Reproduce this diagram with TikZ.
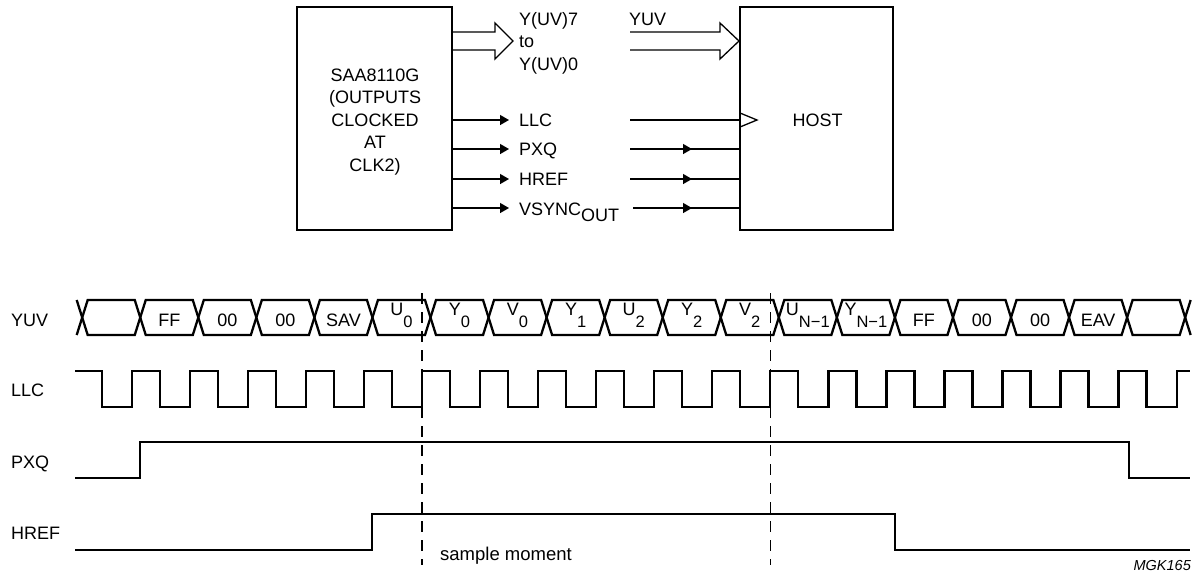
\documentclass[tikz,border=0pt]{standalone}
\usepackage{fontspec}
\setmainfont{Liberation Sans}
\usetikzlibrary{arrows.meta}
\newcommand{\bsub}[2]{\raisebox{12pt}{#1}{\fontsize{16.5}{16.5}\selectfont #2}}
\begin{document}
\begin{tikzpicture}[x=1pt,y=-1pt,
  txt/.style={inner sep=0pt, font=\fontsize{18}{22}\selectfont},
  blk/.style={draw, line width=2pt, inner sep=0pt},
  thinln/.style={line width=1.3pt, line join=miter},
  sarrow/.style={thinln, -{Triangle[length=9pt,width=10pt]}},
  wave/.style={line width=2.3pt, line join=miter},
  dashln/.style={line width=1.2pt, dash pattern=on 11pt off 8pt}]
\useasboundingbox (0,0) rectangle (1198,574);

% ---------- block diagram ----------
\node[blk, minimum width=155pt, minimum height=223pt] (saa) at (374.5,118.5) {};
\node[blk, minimum width=153pt, minimum height=223pt] (host) at (816.5,118.5) {};
\node[txt, anchor=base] (s1) at (375,81) {SAA8110G};
\node[txt, anchor=base] (s2) at (375,103.5) {(OUTPUTS};
\node[txt, anchor=base] (s3) at (375,126) {CLOCKED};
\node[txt, anchor=base] (s4) at (375,148.5) {AT};
\node[txt, anchor=base] (s5) at (375,171) {CLK2)};
\node[txt, anchor=base] (hostL) at (817.5,126) {HOST};

\node[txt, anchor=base west] (yuv7) at (519,25) {Y(UV)7};
\node[txt, anchor=base west] (yto) at (519,47.5) {to};
\node[txt, anchor=base west] (yuv0) at (519,70) {Y(UV)0};
\node[txt, anchor=base west] (yuvT) at (629,25) {YUV};
\node[txt, anchor=base west] (llcT) at (519,126.5) {LLC};
\node[txt, anchor=base west] (pxqT) at (519,155.5) {PXQ};
\node[txt, anchor=base west] (hrefT) at (519,185.5) {HREF};
\node[txt, anchor=base west] (vsT) at (519,215.5) {VSYNC\raisebox{-5.5pt}{OUT}};

\coordinate (llcTip) at (509,120);
\coordinate (pxqTip) at (509,149);
\coordinate (hrefTip) at (509,179);
\coordinate (vsTip) at (509,208);
\coordinate (llcR) at (630,120);
\coordinate (pxqR) at (630,149);
\coordinate (hrefR) at (630,179);
\coordinate (vsR) at (633,208);

% hollow bus arrows
\draw[thinln] (saa.east |- 0,32) -- (495,32) -- (495,23) -- (513,41) -- (495,59) -- (495,50) -- (saa.east |- 0,50);
\draw[thinln] (630,32) -- (720,32) -- (720,23) -- (host.west |- 0,41) -- (720,59) -- (720,50) -- (630,50);

% outputs
\draw[sarrow] (saa.east |- llcTip) -- (llcTip);
\draw[sarrow] (saa.east |- pxqTip) -- (pxqTip);
\draw[sarrow] (saa.east |- hrefTip) -- (hrefTip);
\draw[sarrow] (saa.east |- vsTip) -- (vsTip);

% host inputs
\draw[thinln] (llcR) -- (host.west |- llcR);
\draw[thinln] (740,113) -- (757,120) -- (740,127);
\foreach \r in {pxqR,hrefR,vsR}{
  \draw[sarrow] (\r) -- (692,0 |- \r);
  \draw[thinln] (686,0 |- \r) -- (host.west |- \r);
}

% ---------- timing diagram ----------
\node[txt, anchor=base west] (tYUV) at (11,326.5) {YUV};
\node[txt, anchor=base west] (tLLC) at (11,396.5) {LLC};
\node[txt, anchor=base west] (tPXQ) at (11,468) {PXQ};
\node[txt, anchor=base west] (tHREF) at (11,539) {HREF};

% bus
\draw[wave] ({82.2-5.5},300) -- ({82.2+5.5},335)
  \foreach \k in {1,...,19} { -- ({430.5+58.05*(\k-6)-5.5},{300+35*mod(\k,2)}) -- ({430.5+58.05*(\k-6)+5.5},{335-35*mod(\k,2)}) };
\draw[wave] ({82.2-5.5},335) -- ({82.2+5.5},300)
  \foreach \k in {1,...,19} { -- ({430.5+58.05*(\k-6)-5.5},{335-35*mod(\k,2)}) -- ({430.5+58.05*(\k-6)+5.5},{300+35*mod(\k,2)}) };

\foreach \k/\t in {1/FF,2/00,3/00,4/SAV,14/FF,15/00,16/00,17/EAV}
  \node[txt, anchor=base] (seg\k) at ({430.5+58.05*(\k-6)+29.025},326.5) {\t};
\foreach \k/\t in {5/{\bsub{U}{0}},6/{\bsub{Y}{0}},7/{\bsub{V}{0}},8/{\bsub{Y}{1}},9/{\bsub{U}{2}},10/{\bsub{Y}{2}},11/{\bsub{V}{2}},12/{\bsub{U}{N−1}},13/{\bsub{Y}{N−1}}}
  \node[txt, anchor=base] (seg\k) at ({430.5+58.05*(\k-6)+29.025},327.5) {\t};

% clock
\draw[wave] (75,371)
  \foreach \k in {-6,...,12} { -- ({422+58.05*\k+28},371) -- ({422+58.05*\k+28},407) -- ({422+58.05*(\k+1)},407) -- ({422+58.05*(\k+1)},371) }
  -- (1190,371);

% PXQ and HREF
\draw[wave] (75,478) -- (140,478) -- (140,442) -- (1129,442) -- (1129,478) -- (1190,478);
\draw[wave] (75,550) -- (372,550) -- (372,514) -- (895,514) -- (895,550) -- (1190,550);

% sample moments
\draw[dashln] (422,293) -- (422,565);
\draw[dashln] (770.3,293) -- (770.3,565);
\node[txt, anchor=base west, font=\fontsize{18.5}{22}\selectfont] (smp) at (440,560) {sample moment};
\node[txt, anchor=base east, font=\fontsize{14.5}{16}\selectfont\itshape] (mgk) at (1191,570) {MGK165};
\end{tikzpicture}
\end{document}
